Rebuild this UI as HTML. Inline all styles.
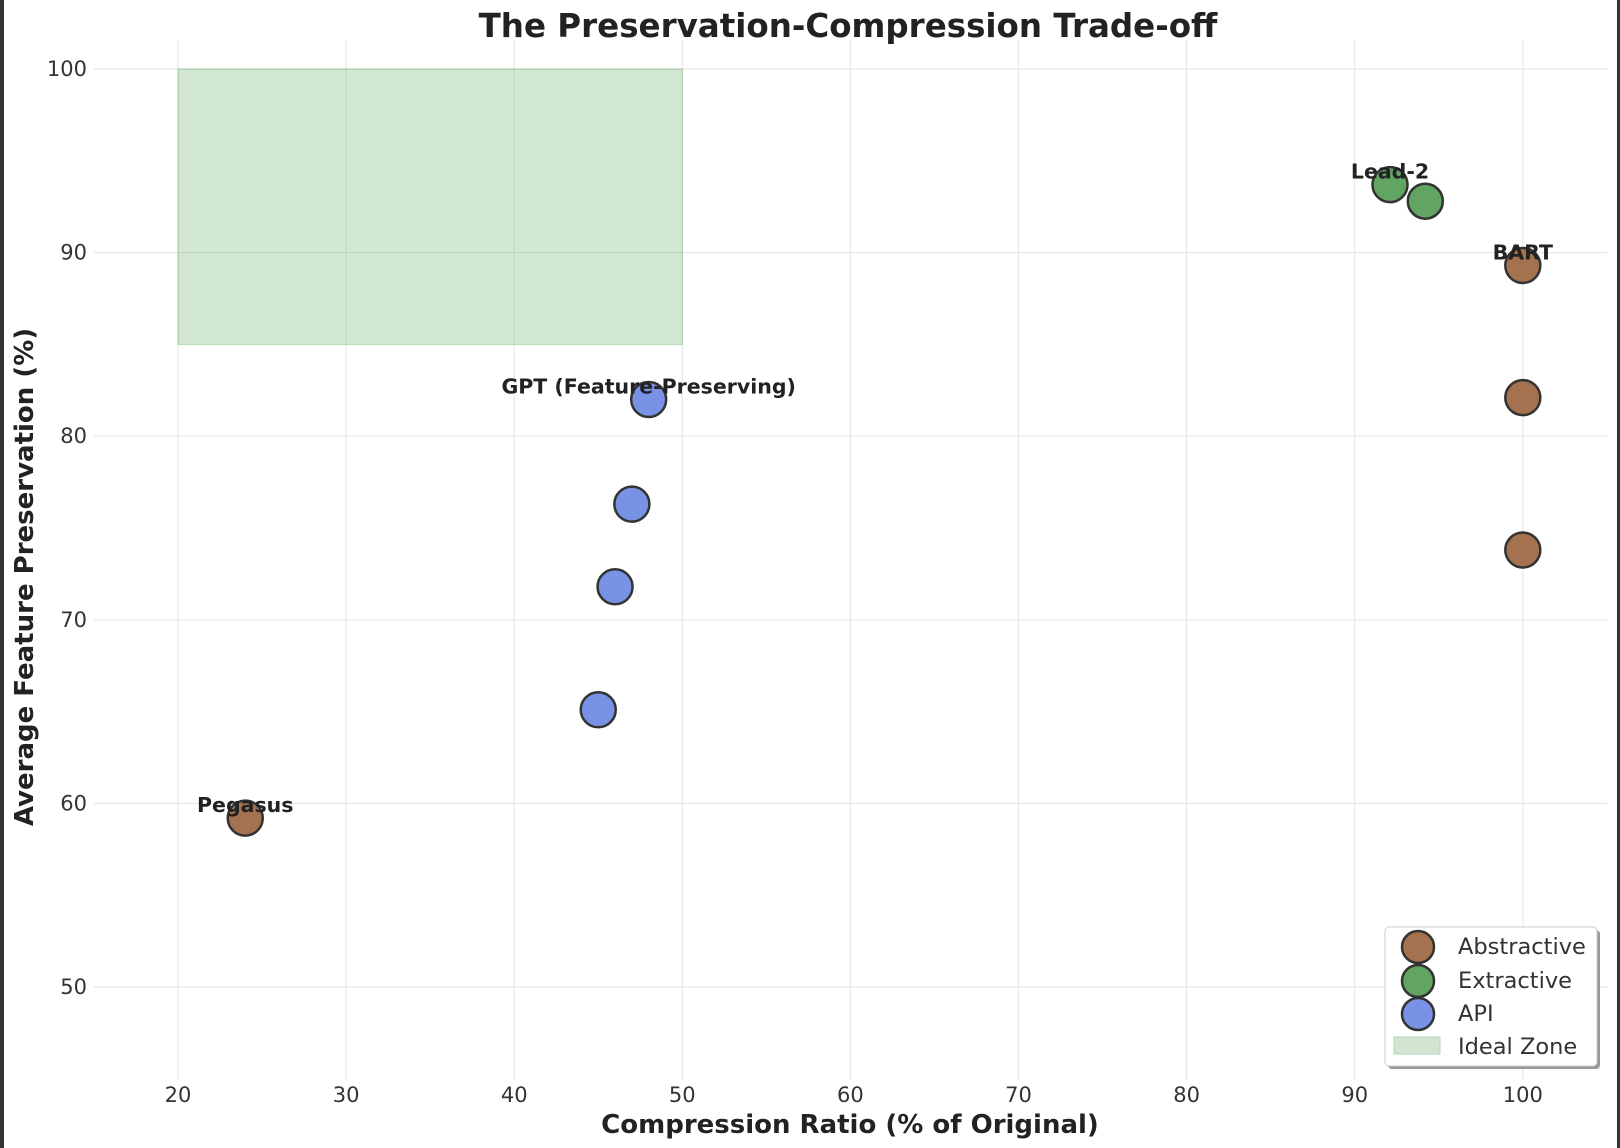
<!DOCTYPE html>
<html><head><meta charset="utf-8"><style>
body{margin:0;background:#fff}
svg{display:block;font-family:"DejaVu Sans","Liberation Sans",sans-serif}
</style></head><body>
<svg id="chart" width="1620" height="1148">
<rect x="0" y="0" width="4" height="1148" fill="#333"/>
<rect x="1617" y="0" width="3" height="1148" fill="#333"/>
<text x="848" y="37" text-anchor="middle" font-size="32.5" font-weight="bold" fill="#222">The Preservation-Compression Trade-off</text>
<text x="850" y="1133" text-anchor="middle" font-size="26" font-weight="bold" fill="#222">Compression Ratio (% of Original)</text>
<text transform="translate(33,577) rotate(-90)" text-anchor="middle" font-size="26" font-weight="bold" fill="#222">Average Feature Preservation (%)</text>
<g id="grid"></g><g id="zone"></g><g id="ticks"></g><g id="points"></g><g id="labels"></g>
<g>
<rect x="1388" y="930" width="212" height="139" rx="4" fill="#999"/>
<rect x="1385" y="927" width="212" height="139" rx="4" fill="#fff" stroke="#ccc"/>
<circle cx="1418" cy="947" r="16" fill="#a5724f" stroke="#333" stroke-width="2.5"/>
<circle cx="1418" cy="981" r="16" fill="#62a462" stroke="#333" stroke-width="2.5"/>
<circle cx="1418" cy="1014" r="16" fill="#7892e6" stroke="#333" stroke-width="2.5"/>
<rect x="1394" y="1037" width="46" height="17" fill="#d1e5d1" stroke="#b5d5b5"/>
<text x="1458" y="954" font-size="22.5" fill="#333">Abstractive</text>
<text x="1458" y="988" font-size="22.5" fill="#333">Extractive</text>
<text x="1458" y="1021" font-size="22.5" fill="#333">API</text>
<text x="1458" y="1054" font-size="22.5" fill="#333">Ideal Zone</text>
</g>
</svg>
<script>
const xTicks=[20,30,40,50,60,70,80,90,100];
const yTicks=[50,60,70,80,90,100];
const categories=["Abstractive","Abstractive","Abstractive","Abstractive","Extractive","Extractive","API","API","API","API"];
const compression=[24,100,100,100,92.1,94.2,48,47,46,45];
const preservation=[59.2,89.3,82.1,73.8,93.7,92.8,82,76.3,71.8,65.1];
const pointLabels=["Pegasus","BART","","","Lead-2","","GPT (Feature-Preserving)","","",""];
const zoneX=[20,50];
const zoneY=[85,100];
const colors={Abstractive:"#a5724f",Extractive:"#62a462",API:"#7892e6"};
const sx=v=>178+(v-20)*16.81;
const sy=v=>69+(100-v)*18.36;
const NS="http://www.w3.org/2000/svg";
function mk(p,t,a){const e=document.createElementNS(NS,t);for(const k in a)e.setAttribute(k,a[k]);document.getElementById(p).appendChild(e);return e;}
xTicks.forEach(v=>{
 const l=mk("grid","line",{x1:sx(v),x2:sx(v),y1:40,y2:1080,stroke:"#e8e8e8","stroke-width":1.2});
 
 
 const t=mk("ticks","text",{x:sx(v),y:1102,"text-anchor":"middle","font-size":21,fill:"#333"});t.textContent=v;
 
 
});
yTicks.forEach(v=>{
 const l=mk("grid","line",{x1:94,x2:1607,y1:sy(v),y2:sy(v),stroke:"#e8e8e8","stroke-width":1.2});
 
 
 const t=mk("ticks","text",{x:87,y:sy(v)+7,"text-anchor":"end","font-size":21,fill:"#333"});t.textContent=v;
 
 
});
const z=mk("zone","rect",{x:sx(zoneX[0]),y:sy(zoneY[1]),width:sx(zoneX[1])-sx(zoneX[0]),height:sy(zoneY[0])-sy(zoneY[1]),fill:"rgba(90,170,90,0.27)",stroke:"rgba(90,170,90,0.4)"});


compression.forEach((c,i)=>{
 const p=mk("points","circle",{cx:sx(c),cy:sy(preservation[i]),r:17.5,fill:colors[categories[i]],stroke:"#333","stroke-width":2.5});
 
 
 if(pointLabels[i]){
  const t=mk("labels","text",{x:sx(c),y:sy(preservation[i])-6,"text-anchor":"middle","font-size":20.5,"font-weight":"bold",fill:"#222"});t.textContent=pointLabels[i];
  
  
 }
});
</script>
</body></html>
